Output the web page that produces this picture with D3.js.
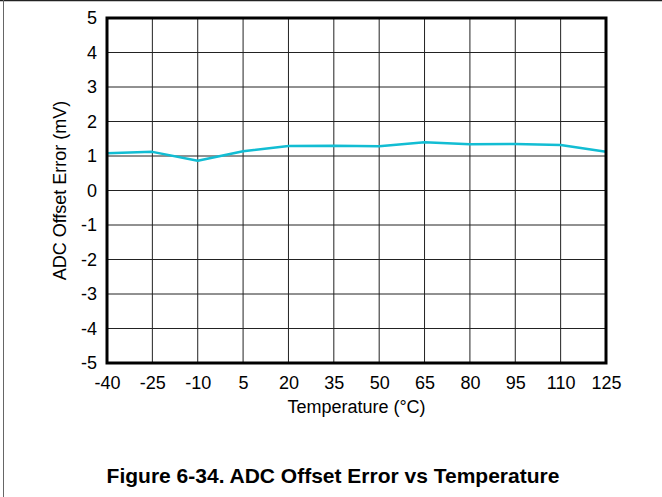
<!DOCTYPE html>
<html><head><meta charset="utf-8">
<script src="https://cdn.jsdelivr.net/npm/d3@7"></script>
<style>body{margin:0;background:#fff}svg{display:block;font-family:"Liberation Sans",Arial,sans-serif}</style>
</head><body><svg id="c" width="662" height="497"></svg>
<script>
const temps = [-40,-25,-10,5,20,35,50,65,80,95,110,125];
const offsetError = [1.08,1.12,0.86,1.14,1.29,1.30,1.28,1.40,1.34,1.35,1.32,1.12];
const yTicks = [-5,-4,-3,-2,-1,0,1,2,3,4,5];
const xLabel = "Temperature (°C)";
const yLabel = "ADC Offset Error (mV)";
const title = "Figure 6-34. ADC Offset Error vs Temperature";

const svg = d3.select("#c");
const L=107, R=606, T=18, B=363;
const x = d3.scaleLinear().domain([-40,125]).range([L,R]);
const y = d3.scaleLinear().domain([-5,5]).range([B,T]);
const FF = "Liberation Sans, Arial, sans-serif";

// outer frame
svg.append("line").attr("x1",0).attr("x2",662).attr("y1",0.5).attr("y2",0.5).attr("stroke","#222").attr("stroke-width",1.5);
svg.append("line").attr("x1",3.5).attr("x2",3.5).attr("y1",0).attr("y2",497).attr("stroke","#666").attr("stroke-width",1);

const g = svg.append("g");
g.selectAll(".vg").data(temps).enter().append("line")
 .attr("x1",d=>x(d)).attr("x2",d=>x(d)).attr("y1",T).attr("y2",B)
 .attr("stroke","#222").attr("stroke-width",1);
g.selectAll(".hg").data(yTicks).enter().append("line")
 .attr("x1",L).attr("x2",R).attr("y1",d=>y(d)).attr("y2",d=>y(d))
 .attr("stroke","#222").attr("stroke-width",1);

// axes labels
const xa = d3.axisBottom(x).tickValues(temps).tickSize(0).tickPadding(13).tickFormat(d=>String(d));
const xg = svg.append("g").attr("transform",`translate(0,${B})`).call(xa);
xg.select(".domain").remove();
xg.attr("font-size",18).attr("font-family",FF);
xg.selectAll("text").attr("fill","#000");
const ya = d3.axisLeft(y).tickValues(yTicks).tickSize(0).tickPadding(10).tickFormat(d=>String(d));
const yg = svg.append("g").attr("transform",`translate(${L},0)`).call(ya);
yg.select(".domain").remove();
yg.attr("font-size",18).attr("font-family",FF);
yg.selectAll("text").attr("fill","#000");

// line
svg.append("path").datum(temps.map((t,i)=>[t,offsetError[i]]))
 .attr("fill","none").attr("stroke","#12bdd3").attr("stroke-width",2.5).attr("stroke-linejoin","round")
 .attr("d",d3.line().x(d=>x(d[0])).y(d=>y(d[1])));

// plot border
svg.append("rect").attr("x",L).attr("y",T).attr("width",R-L).attr("height",B-T)
 .attr("fill","none").attr("stroke","#000").attr("stroke-width",3);

svg.append("text").attr("x",(L+R)/2).attr("y",413).attr("text-anchor","middle").attr("font-size",18).attr("font-family",FF).text(xLabel);
svg.append("text").attr("transform",`translate(66,${(T+B)/2}) rotate(-90)`).attr("text-anchor","middle").attr("font-size",18).attr("font-family",FF).text(yLabel);
svg.append("text").attr("x",333).attr("y",483).attr("text-anchor","middle").attr("font-size",21).attr("font-weight","bold").attr("font-family",FF).text(title);
</script></body></html>
